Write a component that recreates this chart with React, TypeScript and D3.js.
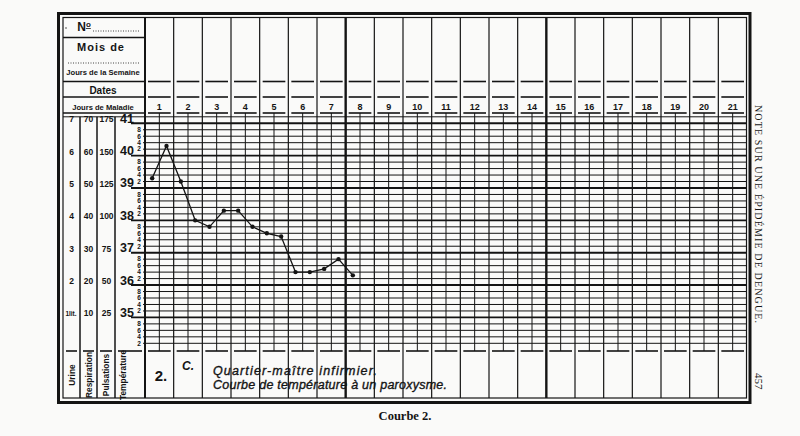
import React, { useEffect, useRef } from 'react';
import * as d3 from 'd3';

// Temperature chart "Courbe 2" - one reading per half-day (morning / evening)
const dayLabels = ['1', '2', '3', '4', '5', '6', '7', '8', '9', '10', '11', '12', '13', '14', '15', '16', '17', '18', '19', '20', '21'];
const temperatures = [39.3, 40.3, 39.2, 38.0, 37.8, 38.3, 38.3, 37.8, 37.6, 37.5, 36.4, 36.4, 36.5, 36.8, 36.3];
const degreeTicks = [41, 40, 39, 38, 37, 36, 35];
const pulseTicks = ['175', '150', '125', '100', '75', '50', '25'];
const respTicks = ['70', '60', '50', '40', '30', '20', '10'];
const urineTicks = ['7', '6', '5', '4', '3', '2', '1lit.'];
const subTickLabels: Record<string, string> = { '2': '2', '4': '4', '6': '6', '8': '8' };
const bottomLabels = ['Urine', 'Respiration', 'Pulsations', 'Température'];

const W = 800;
const H = 436;
const INK = '#141414';
const SANS = '"Liberation Sans", "DejaVu Sans", sans-serif';
const SERIF = '"Liberation Serif", "DejaVu Serif", serif';

const App = () => {
  const ref = useRef<SVGSVGElement>(null);

  useEffect(() => {
    if (ref.current) draw();
  }, []);

  const draw = () => {
    const svg = d3.select(ref.current);
    svg.selectAll('*').remove();

    const gx0 = 145, gx1 = 747;
    const x = d3.scaleLinear().domain([0, dayLabels.length * 2]).range([gx0, gx1]);
    const y = d3.scaleLinear().domain([34.2, 41.2]).range([343.3, 116.8]);

    const line = (x1: number, y1: number, x2: number, y2: number, w = 1, dash?: string) => {
      const l = svg.append('line')
        .attr('x1', x1).attr('y1', y1).attr('x2', x2).attr('y2', y2)
        .attr('stroke', INK).attr('stroke-width', w);
      if (dash) l.attr('stroke-dasharray', dash);
      return l;
    };

    svg.append('rect').attr('width', W).attr('height', H).attr('fill', '#fafaf9');

    // frame
    svg.append('rect').attr('x', 58.5).attr('y', 13.5).attr('width', 691.5).attr('height', 389)
      .attr('fill', 'none').attr('stroke', INK).attr('stroke-width', 3);
    svg.append('rect').attr('x', 63).attr('y', 17.5).attr('width', 683.5).attr('height', 380.5)
      .attr('fill', 'none').attr('stroke', INK).attr('stroke-width', 1.2);

    // horizontal grid (every 0.2 degree, thick on whole degrees)
    const steps = d3.range(0, 36);
    steps.forEach(k => {
      const v = +(34.2 + k * 0.2).toFixed(1);
      const whole = Math.abs(v - Math.round(v)) < 1e-6;
      const top = k === 35;
      line(top ? 63 : whole ? 131 : 143, y(v), gx1, y(v), whole ? 1.9 : 1);
      if (!whole && !top) {
        const frac = String(Math.round((v - Math.floor(v)) * 10));
        svg.append('text').attr('x', 139).attr('y', y(v) + 2.3)
          .attr('text-anchor', 'middle').attr('font-family', SANS).attr('font-weight', 700)
          .attr('font-size', 6.5).attr('fill', INK).text(subTickLabels[frac]);
      }
    });

    // day columns
    dayLabels.forEach((lab, i) => {
      const xl = x(i * 2), xr = x(i * 2 + 2), xm = x(i * 2 + 1);
      if (i > 0) line(xl, 17, xl, 398, i === 7 || i === 14 ? 2.4 : 1.2);
      line(xm, 113, xm, 351, 1);
      [81.5, 97, 113, 351].forEach(yy => line(xl + 3, yy, xr - 3, yy, 1.6));
      svg.append('text').attr('x', xm).attr('y', 109.5).attr('text-anchor', 'middle')
        .attr('font-family', SANS).attr('font-weight', 700).attr('font-size', 9)
        .attr('fill', INK).text(lab);
    });

    // left panel
    line(gx0, 17, gx0, 398, 2);
    [37.5, 81.5, 97, 113].forEach(yy => line(63, yy, gx0, yy, 1.6));
    line(68, 63, 140, 63, 0.8, '1 1.5');
    const cols = [63, 80, 97, 115, gx0];
    [80, 97, 115].forEach(cx => line(cx, 116.8, cx, 398, 1.5));
    cols.slice(0, -1).forEach((c, i) => line(c + 3, 351, cols[i + 1] - 3, 351, 1.6));

    const label = (tx: number, ty: number, t: string, size: number, weight = 700, anchor = 'middle') =>
      svg.append('text').attr('x', tx).attr('y', ty).attr('text-anchor', anchor)
        .attr('font-family', SANS).attr('font-weight', weight).attr('font-size', size)
        .attr('fill', INK).text(t);

    const no = label(84, 31, 'N', 12);
    no.append('tspan').attr('font-size', 8).attr('dy', -4).attr('text-decoration', 'underline').text('o');
    line(93, 31, 140, 31, 0.8, '1 1.5');
    svg.append('circle').attr('cx', 66).attr('cy', 28).attr('r', 0.7).attr('fill', INK);
    label(101, 51, 'Mois de', 11).attr('letter-spacing', 1);
    label(103, 75, 'Jours de la Semaine', 7.6);
    label(103, 93.5, 'Dates', 10);
    label(103, 109.5, 'Jours de Maladie', 7.6);

    degreeTicks.forEach((d, i) => {
      const yy = y(d);
      label(127, yy - 0.5, String(d), 12.5);
      label(106.5, yy - 1, pulseTicks[i], 8.5);
      label(88.5, yy - 1, respTicks[i], 8.5);
      label(i === urineTicks.length - 1 ? 71 : 71.5, yy - 1, urineTicks[i], i === urineTicks.length - 1 ? 6.5 : 8.5);
    });

    const bx = [75, 91.5, 109, 126];
    bottomLabels.forEach((t, i) => {
      svg.append('text').attr('transform', `translate(${bx[i]},${375}) rotate(-90)`)
        .attr('text-anchor', 'middle').attr('font-family', SANS).attr('font-weight', 700)
        .attr('font-size', 8.4).attr('fill', INK).text(t);
    });

    // temperature curve
    const pts = temperatures.map((t, i) => [x(i + 0.5), y(t)] as [number, number]);
    svg.append('path').attr('d', d3.line()(pts) || '').attr('fill', 'none')
      .attr('stroke', INK).attr('stroke-width', 1.3);
    svg.selectAll('.pt').data(pts).enter().append('circle').attr('class', 'pt')
      .attr('cx', d => d[0]).attr('cy', d => d[1]).attr('r', 2.2).attr('fill', INK);

    // notes
    label(161, 381, '2.', 15);
    label(188, 369.5, 'C.', 12).attr('font-style', 'italic');
    label(213, 375, 'Quartier-maître infirmier.', 12.5, 400, 'start')
      .attr('font-style', 'italic').attr('stroke', INK).attr('stroke-width', 0.35)
      .attr('textLength', 164).attr('lengthAdjust', 'spacing');
    label(213, 388.5, 'Courbe de température à un paroxysme.', 12.5, 400, 'start')
      .attr('font-style', 'italic').attr('stroke', INK).attr('stroke-width', 0.35)
      .attr('textLength', 234).attr('lengthAdjust', 'spacing');

    // page furniture
    svg.append('text').attr('transform', 'translate(755,105) rotate(90)')
      .attr('font-family', SERIF).attr('font-size', 10).attr('fill', INK)
      .attr('textLength', 218).attr('lengthAdjust', 'spacing')
      .text('NOTE SUR UNE ÉPIDÉMIE DE DENGUE.');
    svg.append('text').attr('transform', 'translate(755,373) rotate(90)')
      .attr('font-family', SERIF).attr('font-size', 11).attr('fill', INK).text('457');
    svg.append('text').attr('x', 405).attr('y', 420).attr('text-anchor', 'middle')
      .attr('font-family', SERIF).attr('font-weight', 700).attr('font-size', 12.5)
      .attr('fill', INK).text('Courbe 2.');
  };

  return (
    <svg ref={ref} width={W} height={H} style={{ position: 'absolute', left: 0, top: 0, display: 'block' }} />
  );
};

export default App;
